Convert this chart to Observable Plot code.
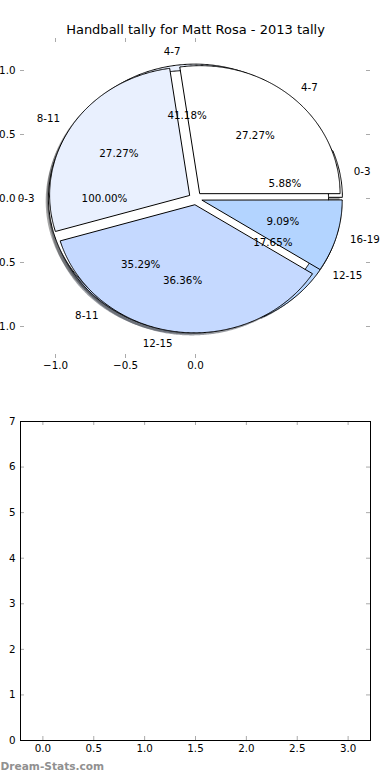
<!DOCTYPE html>
<html><head><meta charset="utf-8">
<script src="https://cdn.jsdelivr.net/npm/d3@7"></script>
<script src="https://cdn.jsdelivr.net/npm/@observablehq/plot@0.6"></script>
<style>
html,body{margin:0;padding:0;background:#fff;width:390px;height:780px;overflow:hidden;}
#chart svg{display:block;}
</style></head><body><div id="chart"></div>
<script>
const titleText = "Handball tally for Matt Rosa - 2013 tally";
const watermark = "Dream-Stats.com";
// three overlaid pies (drawn in this order)
const pie1Cats = ["0-3", "4-7", "8-11", "12-15"];
const pie1Counts = [1, 7, 6, 3];
const pie3Cats = ["0-3"];
const pie3Counts = [1];
const pie2Cats = ["4-7", "8-11", "12-15", "16-19"];
const pie2Counts = [3, 3, 4, 1];
const sliceColors = ["#ffffff", "#e9f0fe", "#c5d9ff", "#b3d4ff"];
const pieXTicks = [-1, -0.5, 0];
const pieYTicks = [-1, -0.5, 0, 0.5, 1];
const barXTicks = [0, 0.5, 1, 1.5, 2, 2.5, 3];
const barYTicks = [0, 1, 2, 3, 4, 5, 6, 7];

const EXPLODE = 0.05, SHADOW = 0.02, LABEL_R = 1.1, PCT_R = 0.6;
const rad = Math.PI / 180;

function pieSlices(cats, counts, pieId) {
  const total = d3.sum(counts);
  let acc = 0;
  return cats.map((cat, i) => {
    const f = counts[i] / total;
    const t1 = acc * 360, t2 = (acc + f) * 360;
    acc += f;
    const mid = (t1 + t2) / 2 * rad;
    const cx = EXPLODE * Math.cos(mid), cy = EXPLODE * Math.sin(mid);
    const full = f >= 0.999999;
    const n = Math.max(4, Math.ceil((t2 - t1) * 2));
    const pts = [];
    if (!full) pts.push([cx, cy]);
    for (let k = 0; k <= n; k++) {
      if (full && k === n) break;
      const t = (t1 + (t2 - t1) * k / n) * rad;
      pts.push([cx + Math.cos(t), cy + Math.sin(t)]);
    }
    return {id: pieId + "-" + i, cat, pct: f * 100, fill: sliceColors[i], pts, mid, cx, cy};
  });
}
const slices = [
  pieSlices(pie1Cats, pie1Counts, "p1"),
  pieSlices(pie3Cats, pie3Counts, "p3"),
  pieSlices(pie2Cats, pie2Counts, "p2")
].flat();
const wedgeRows = slices.flatMap(s => s.pts.map(([x, y]) => ({id: s.id, x, y, fill: s.fill})));
const shadowRows = slices.flatMap(s => {
  const c = d3.rgb(s.fill);
  const sc = d3.rgb(c.r * 0.3, c.g * 0.3, c.b * 0.3).formatHex();
  return s.pts.map(([x, y]) => ({id: "s" + s.id, x: x - SHADOW, y: y - SHADOW, fill: sc}));
});
const catLabels = slices.map(s => ({x: s.cx + LABEL_R * Math.cos(s.mid), y: s.cy + LABEL_R * Math.sin(s.mid), text: s.cat}));
const pctLabels = slices.map(s => ({x: s.cx + PCT_R * Math.cos(s.mid), y: s.cy + PCT_R * Math.sin(s.mid), text: d3.format(".2f")(s.pct) + "%"}));

const W = 390, FS = 10.3, TL = 4, tickColor = "#aaa";
const font = {fontFamily: "DejaVu Sans", fontSize: FS + "px", background: "white", overflow: "visible"};

// pie axes
const PH = 400, pm = {t: 38, b: 42, l: 20, r: 20};
const pfw = W - pm.l - pm.r, pfh = PH - pm.t - pm.b;
const pie = Plot.plot({
  width: W, height: PH, marginTop: pm.t, marginBottom: pm.b, marginLeft: pm.l, marginRight: pm.r,
  x: {domain: [-1.25, 1.25], label: null},
  y: {domain: [-1.25, 1.25], label: null},
  color: {type: "identity"},
  style: font,
  marks: [
    Plot.tickX(pieXTicks, {x: d => d, stroke: tickColor, insetTop: pfh - TL}),
    Plot.tickX(pieXTicks, {x: d => d, stroke: tickColor, insetBottom: pfh - TL}),
    Plot.tickY(pieYTicks, {y: d => d, stroke: tickColor, insetRight: pfw - TL}),
    Plot.tickY(pieYTicks, {y: d => d, stroke: tickColor, insetLeft: pfw - TL}),
    Plot.line(shadowRows, {x: "x", y: "y", z: "id", fill: "fill", fillOpacity: 0.5, stroke: "none", curve: "linear-closed"}),
    Plot.line(wedgeRows, {x: "x", y: "y", z: "id", fill: "fill", stroke: "black", strokeWidth: 1, strokeLinejoin: "miter", curve: "linear-closed"}),
    Plot.text(catLabels.filter(d => d.x > 0), {x: "x", y: "y", text: "text", textAnchor: "start", lineAnchor: "middle", fontSize: FS, fill: "black"}),
    Plot.text(catLabels.filter(d => d.x <= 0), {x: "x", y: "y", text: "text", textAnchor: "end", lineAnchor: "middle", fontSize: FS, fill: "black"}),
    Plot.text(pctLabels, {x: "x", y: "y", text: "text", textAnchor: "middle", lineAnchor: "middle", fontSize: FS, fill: "black"}),
    Plot.text([titleText], {text: d => d, frameAnchor: "top", dy: -8.5, lineAnchor: "middle", fontSize: 13, fill: "black"}),
    Plot.axisX(pieXTicks, {anchor: "bottom", tickSize: 0, tickPadding: 3, tickFormat: d3.format(".1f"), fontSize: FS, label: null}),
    Plot.axisY(pieYTicks, {anchor: "left", tickSize: 0, tickPadding: 5, tickFormat: d3.format(".1f"), fontSize: FS, label: null})
  ]
});

// empty second axes
const BH = 380, bm = {t: 21, b: 40, l: 20, r: 20};
const bfw = W - bm.l - bm.r, bfh = BH - bm.t - bm.b;
const bars = Plot.plot({
  width: W, height: BH, marginTop: bm.t, marginBottom: bm.b, marginLeft: bm.l, marginRight: bm.r,
  x: {domain: [-0.22, 3.22], label: null},
  y: {domain: [0, 7], label: null},
  style: font,
  marks: [
    Plot.tickX(barXTicks, {x: d => d, stroke: tickColor, insetTop: bfh - TL}),
    Plot.tickX(barXTicks, {x: d => d, stroke: tickColor, insetBottom: bfh - TL}),
    Plot.tickY(barYTicks, {y: d => d, stroke: tickColor, insetRight: bfw - TL}),
    Plot.tickY(barYTicks, {y: d => d, stroke: tickColor, insetLeft: bfw - TL}),
    Plot.frame({stroke: "black", strokeWidth: 1}),
    Plot.axisX(barXTicks, {anchor: "bottom", tickSize: 0, tickPadding: 4, tickFormat: d3.format(".1f"), fontSize: FS, label: null}),
    Plot.axisY(barYTicks, {anchor: "left", tickSize: 0, tickPadding: 5, tickFormat: d3.format("d"), fontSize: FS, label: null}),
    Plot.text([watermark], {text: d => d, frameAnchor: "bottom-left", dx: -bm.l, dy: 26.5, textAnchor: "start", lineAnchor: "middle", fontSize: 10.6, fontWeight: "bold", fill: "#909090"})
  ]
});

const host = document.getElementById("chart");
host.append(pie, bars);
</script></body></html>
